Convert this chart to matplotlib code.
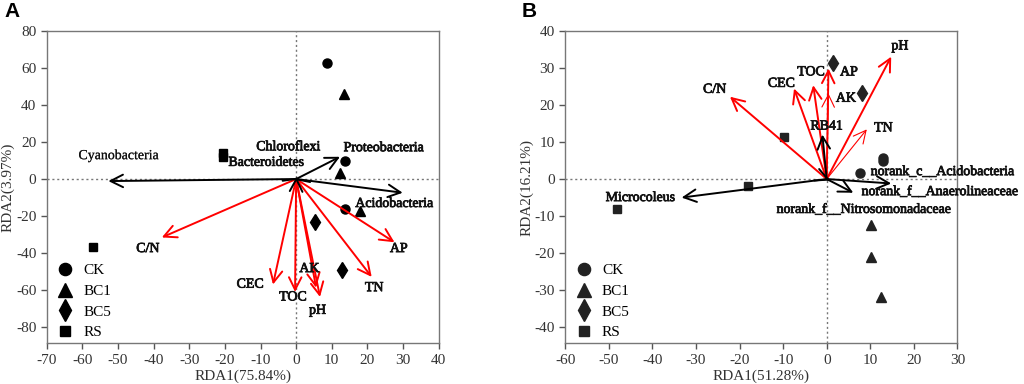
import matplotlib.pyplot as plt
import matplotlib.patheffects as pe
from matplotlib.lines import Line2D

# sample scores, panel A
a_ck = [(8.8, 62.7), (13.75, 9.7), (13.75, -16.2)]
a_bc1 = [(13.3, 45.7), (12.3, 3.0), (18.0, -17.3)]
a_bc5 = [(5.3, -23.4), (13.0, -49.2)]
a_rs = [(-20.6, 14.2), (-20.6, 12.0), (-56.9, -36.9)]

# species (black) and environment (red) arrows, panel A
a_spec_names = ['Cyanobacteria', 'Proteobacteria', 'Acidobacteria', 'Chloroflexi', 'Bacteroidetes']
a_spec_tips = [(-52.7, -1.1), (12.3, 12.0), (29.9, -7.4), (0.6, 0.8), (-0.4, 0.6)]
a_env_names = ['C/N', 'CEC', 'TOC', 'AK', 'pH', 'TN', 'AP']
a_env_tips = [(-37.7, -31.5), (-6.5, -56.9), (-0.3, -60.9), (5.6, -58.6), (6.7, -63.6), (21.2, -52.8), (27.6, -34.1)]

# sample scores, panel B
b_ck = [(12.9, 5.8), (12.9, 4.9), (7.7, 1.5)]
b_bc1 = [(10.2, -12.3), (10.2, -20.9), (12.4, -31.7)]
b_bc5 = [(1.5, 31.2), (8.0, 23.3)]
b_rs = [(-9.9, 11.4), (-18.1, -1.8), (-48.2, -8.2)]

b_spec_names = ['Microcoleus', 'norank_c__Acidobacteria', 'norank_f__Anaerolineaceae',
                'norank_f__Nitrosomonadaceae', 'RB41']
b_spec_tips = [(-33.3, -5.0), (14.8, -1.2), (6.1, -3.7), (0.8, -0.4), (-1.0, 12.0)]
b_env_names = ['C/N', 'CEC', 'TOC', 'AP', 'AK', 'pH', 'TN']
b_env_tips = [(-22.2, 22.2), (-7.5, 24.4), (-3.1, 25.3), (0.4, 29.8), (0.4, 23.1), (14.8, 33.0), (9.2, 13.4)]
b_env_thin = ['AK', 'TN']

# label placement
a_lab_pos = {'Cyanobacteria': (-49.8, 12.6, 'center'), 'Proteobacteria': (13.3, 16.9, 'left'),
             'Acidobacteria': (16.6, -13.2, 'left'), 'Chloroflexi': (-2.2, 17.4, 'center'),
             'Bacteroidetes': (-19.0, 9.0, 'left'), 'C/N': (-41.6, -37.5, 'center'),
             'CEC': (-12.9, -56.7, 'center'), 'TOC': (-0.9, -63.6, 'center'),
             'AK': (3.7, -48.3, 'center'), 'pH': (6.0, -70.8, 'center'),
             'TN': (21.9, -58.6, 'center'), 'AP': (28.8, -37.5, 'center')}
b_lab_pos = {'Microcoleus': (-42.8, -5.0, 'center'), 'norank_c__Acidobacteria': (10.1, 2.0, 'left'),
             'norank_f__Anaerolineaceae': (8.0, -3.4, 'left'),
             'norank_f__Nitrosomonadaceae': (-11.5, -8.2, 'left'), 'RB41': (0.0, 14.3, 'center'),
             'C/N': (-25.7, 24.2, 'center'), 'CEC': (-10.4, 25.8, 'center'),
             'TOC': (-3.6, 28.9, 'center'), 'AP': (5.1, 28.9, 'center'),
             'AK': (4.4, 21.8, 'center'), 'pH': (16.8, 35.9, 'center'), 'TN': (13.0, 13.8, 'center')}

plt.rcParams['font.family'] = ['Liberation Serif', 'DejaVu Serif']
plt.rcParams['axes.unicode_minus'] = False

fig = plt.figure(figsize=(10.24, 3.84), dpi=100)
axA = fig.add_axes([0.0456, 0.106, 0.3828, 0.814])
axB = fig.add_axes([0.552, 0.106, 0.383, 0.814])

groups = [('CK', 'o', 6.5), ('BC1', '^', 7.5), ('BC5', 'd', 8), ('RS', 's', 5.5)]


def arrow(ax, tip, color, lw=1.4):
    ax.annotate('', xy=tip, xytext=(0, 0),
                arrowprops=dict(arrowstyle='->,head_length=0.9,head_width=0.45',
                                color=color, lw=lw, mutation_scale=10,
                                shrinkA=0, shrinkB=0))


def panel(ax, pts, spec_names, spec_tips, env_names, env_tips, labpos, xlim, ylim,
          xticks, yticks, xlabel, ylabel, mcol, thin=()):
    ax.axhline(0, color='#777777', ls=(0, (1.5, 2)), lw=1, zorder=0)
    ax.axvline(0, color='#777777', ls=(0, (1.5, 2)), lw=1, zorder=0)
    for name, tip in zip(env_names, env_tips):
        arrow(ax, tip, 'red', 0.8 if name in thin else 1.4)
    for name, tip in zip(spec_names, spec_tips):
        arrow(ax, tip, 'black')
    for (g, m, ms), p in zip(groups, pts):
        ax.plot([q[0] for q in p], [q[1] for q in p], ls='none', marker=m,
                ms=ms, color=mcol, mec=mcol)
    for name in list(spec_names) + list(env_names):
        x, y, ha = labpos[name]
        sw = 0.1 if name == 'Cyanobacteria' else 0.55
        ax.text(x, y, name, ha=ha, va='center', fontsize=10, color='#111111',
                path_effects=[pe.withStroke(linewidth=sw, foreground='#111111')])
    ax.set_xlim(xlim)
    ax.set_ylim(ylim)
    ax.set_xticks(xticks)
    ax.set_yticks(yticks)
    ax.set_xlabel(xlabel, fontsize=11, color='#333333', labelpad=2)
    ax.set_ylabel(ylabel, fontsize=11, color='#333333', labelpad=1)
    ax.tick_params(direction='out', length=4, width=1, colors='#555555',
                   labelcolor='#333333', labelsize=11, top=False, right=False)
    for s in ax.spines.values():
        s.set_color('#777777')
        s.set_linewidth(1)
    handles = [Line2D([], [], ls='none', marker=m, ms=ms * 1.35, color=mcol, mec=mcol)
               for g, m, ms in groups]
    ax.legend(handles, [g for g, m, ms in groups], loc='lower left', frameon=False,
              fontsize=11, handletextpad=0.6, labelspacing=0.45,
              borderaxespad=0.2, handlelength=1.2, bbox_to_anchor=(0.0, -0.016))


panel(axA, [a_ck, a_bc1, a_bc5, a_rs], a_spec_names, a_spec_tips, a_env_names, a_env_tips,
      a_lab_pos, (-70, 40), (-88.6, 80), range(-70, 41, 10), range(-80, 81, 20),
      'RDA1(75.84%)', 'RDA2(3.97%)', 'black')
panel(axB, [b_ck, b_bc1, b_bc5, b_rs], b_spec_names, b_spec_tips, b_env_names, b_env_tips,
      b_lab_pos, (-60, 30), (-44.3, 40), range(-60, 31, 10), range(-40, 41, 10),
      'RDA1(51.28%)', 'RDA2(16.21%)', '#222222', thin=b_env_thin)

fig.text(0.004, 0.995, 'A', fontsize=15, weight='bold', family='Liberation Sans', va='top')
fig.text(0.509, 0.995, 'B', fontsize=15, weight='bold', family='Liberation Sans', va='top')

fig.savefig('out.png', dpi=100)
